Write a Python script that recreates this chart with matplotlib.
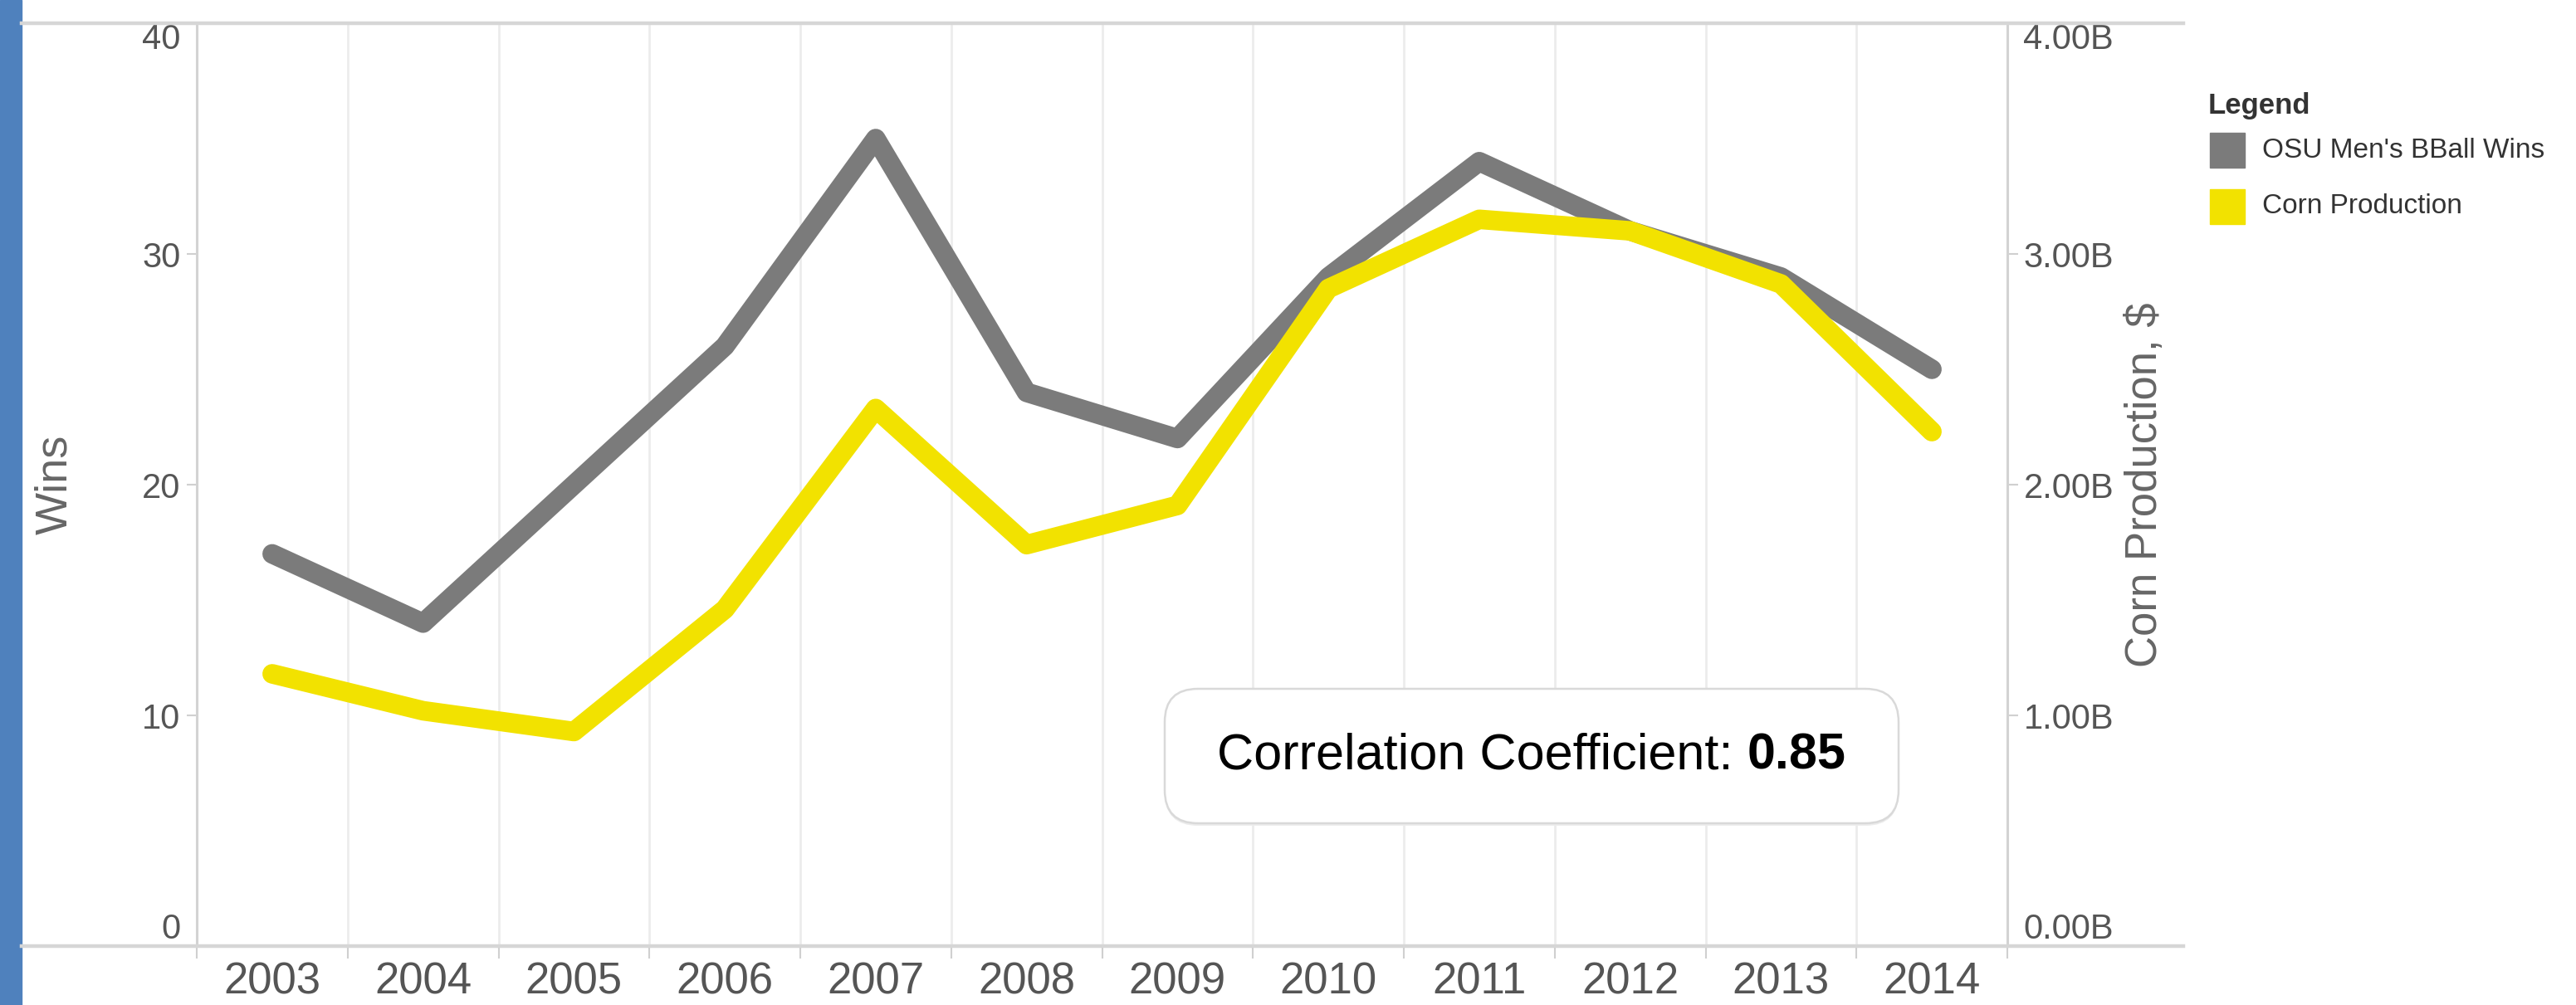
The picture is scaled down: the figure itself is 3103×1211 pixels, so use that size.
import matplotlib.pyplot as plt
import matplotlib.ticker as mticker
from matplotlib.patches import Rectangle, FancyBboxPatch
from matplotlib.lines import Line2D

# data
years = ['2003', '2004', '2005', '2006', '2007', '2008',
         '2009', '2010', '2011', '2012', '2013', '2014']
wins = [17, 14, 20, 26, 35, 24, 22, 29, 34, 31, 29, 25]
corn_billions = [1.18, 1.02, 0.93, 1.46, 2.33, 1.74, 1.91, 2.85, 3.15, 3.10, 2.87, 2.23]
wins_ticks = [0, 10, 20, 30, 40]
corn_ticks = [0, 1, 2, 3, 4]

plt.rcParams['font.family'] = ['Liberation Sans', 'DejaVu Sans']

W, H = 3103, 1211
GRAY = '#7b7b7b'
YELLOW = '#f2e200'
LIGHT = '#d6d6d6'

fig = plt.figure(figsize=(W / 100, H / 100), dpi=100)

# blue strip on the left edge
fig.patches.append(Rectangle((0, 0), 26 / W, 1, transform=fig.transFigure,
                             color='#4f81bd', zorder=0))

ax = fig.add_axes([237 / W, 1 - 1140 / H, (2418 - 237) / W, (1140 - 28) / H])
x = list(range(len(years)))
ax.plot(x, wins, color=GRAY, lw=17, solid_capstyle='round',
        solid_joinstyle='round', zorder=3)
ax.set_xlim(-0.5, len(years) - 0.5)
ax.set_ylim(0, 40)
ax.set_yticks(wins_ticks)
ax.set_xticks(x)
ax.set_xticklabels(years)
ax.set_xticks([i - 0.5 for i in range(len(years) + 1)], minor=True)
ax.grid(axis='x', which='minor', color='#ececec', lw=2)
ax.tick_params(axis='x', which='major', length=0, pad=13, labelsize=38,
               labelcolor='#555555')
ax.tick_params(axis='x', which='minor', length=11, width=1.5, color='#d0d0d0')
ax.tick_params(axis='y', length=9, width=1.5, color='#d0d0d0', pad=5,
               labelsize=30, labelcolor='#555555')
for s in ['top', 'bottom', 'right']:
    ax.spines[s].set_visible(False)
ax.spines['left'].set_color('#d3d3d3')
ax.spines['left'].set_linewidth(2.2)
ax.set_ylabel('Wins', fontsize=39, color='#666666')
ax.yaxis.set_label_coords(-0.0785, 0.5)
ax.yaxis.label.set_va('center')

ylab = ax.get_yticklabels()
ylab[0].set_va('bottom')
ylab[-1].set_va('top')

ax2 = ax.twinx()
ax2.plot(x, corn_billions, color=YELLOW, lw=17, solid_capstyle='round',
         solid_joinstyle='round', zorder=3)
ax2.set_ylim(0, 4)
ax2.set_yticks(corn_ticks)
ax2.yaxis.set_major_formatter(mticker.FuncFormatter(lambda v, p: f'{v:.2f}B'))
ax2.tick_params(axis='y', length=9, width=1.5, color='#d0d0d0', pad=5,
                labelsize=30, labelcolor='#555555')
for s in ['top', 'bottom', 'left']:
    ax2.spines[s].set_visible(False)
ax2.spines['right'].set_color('#d3d3d3')
ax2.spines['right'].set_linewidth(2.2)
ax2.set_ylabel('Corn Production, $', fontsize=38, color='#666666')
ax2.yaxis.set_label_coords(1.076, 0.5)
ax2.yaxis.label.set_va('center')

ylab2 = ax2.get_yticklabels()
ylab2[0].set_va('bottom')
ylab2[-1].set_va('top')

# long horizontal rules at top and bottom
fig.lines.append(Line2D([26 / W, 2630 / W], [1 - 28 / H, 1 - 28 / H],
                        transform=fig.transFigure, color=LIGHT, lw=3.2))
fig.lines.append(Line2D([26 / W, 2630 / W], [1 - 1140 / H, 1 - 1140 / H],
                        transform=fig.transFigure, color=LIGHT, lw=3.2))

# correlation box
bx0, by0, bw, bh = 14.03, (H - 992) / 100, 8.84, 1.62
shadow = FancyBboxPatch((bx0, by0 - 0.03), bw, bh,
                        boxstyle='round,pad=0,rounding_size=0.4',
                        transform=fig.dpi_scale_trans, fc='#ececec', ec='none', zorder=4)
box = FancyBboxPatch((bx0, by0), bw, bh,
                     boxstyle='round,pad=0,rounding_size=0.4',
                     transform=fig.dpi_scale_trans, fc='white', ec='#d9d9d9',
                     lw=1.8, zorder=5)
fig.patches.append(shadow)
fig.patches.append(box)

cx, cy = 1845, 911
t1 = fig.text(0, 0, 'Correlation Coefficient:', fontsize=44, color='black',
              va='center', ha='left', zorder=6)
t2 = fig.text(0, 0, '0.85', fontsize=44, fontweight='bold', color='black',
              va='center', ha='left', zorder=6)
fig.canvas.draw()
r = fig.canvas.get_renderer()
w1 = t1.get_window_extent(r).width
w2 = t2.get_window_extent(r).width
gap = 17
xs = cx - (w1 + gap + w2) / 2
t1.set_position((xs / W, 1 - cy / H))
t2.set_position(((xs + w1 + gap) / W, 1 - cy / H))

# legend
fig.text(2660 / W, 1 - 127 / H, 'Legend', fontsize=25, fontweight='bold',
         color='#333333', va='center', ha='left')
for label, color, yc in [("OSU Men's BBall Wins", GRAY, 181),
                         ('Corn Production', YELLOW, 249)]:
    fig.patches.append(Rectangle((2662 / W, 1 - (yc + 21) / H), 42 / W, 42 / H,
                                 transform=fig.transFigure, color=color))
    fig.text(2725 / W, 1 - yc / H, label, fontsize=24, color='#333333',
             va='center', ha='left')

plt.savefig('out.png', dpi=100)
